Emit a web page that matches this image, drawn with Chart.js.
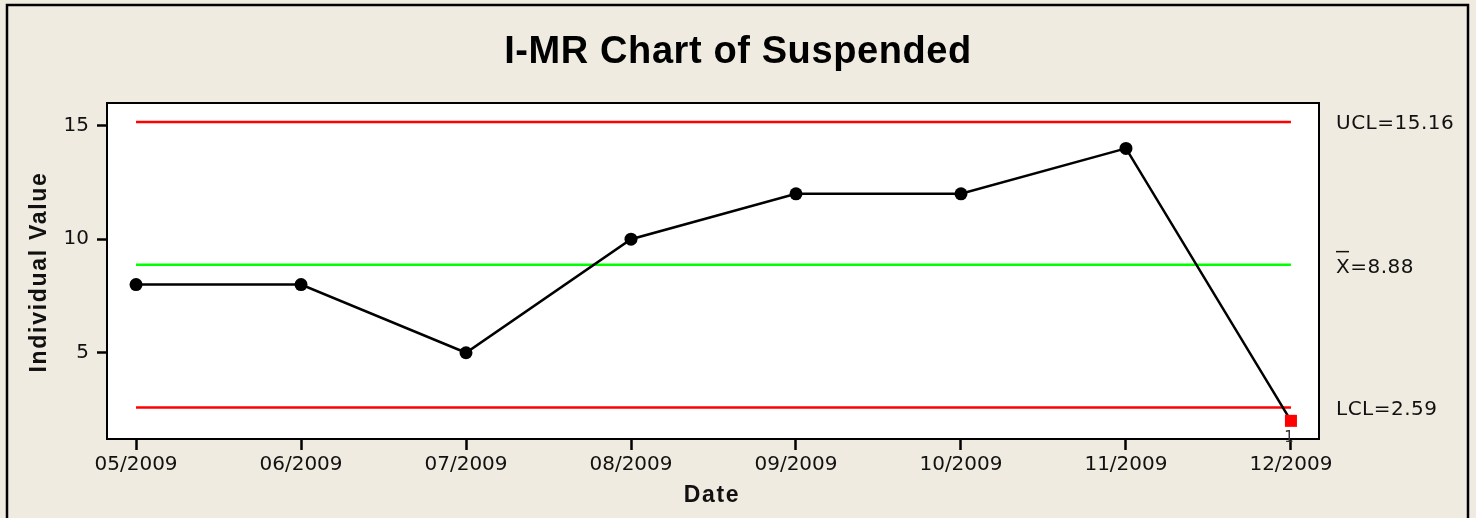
<!DOCTYPE html>
<html>
<head>
<meta charset="utf-8">
<title>I-MR Chart of Suspended</title>
<script src="https://cdn.jsdelivr.net/npm/chart.js@4"></script>
<style>
  html, body { margin: 0; padding: 0; background: #efebe0; }
  #wrap { width: 1476px; height: 518px; }
</style>
</head>
<body>
<div id="wrap"><canvas id="imrChart" width="1476" height="518"></canvas></div>
<script>
// data
const dates = ["05/2009", "06/2009", "07/2009", "08/2009", "09/2009", "10/2009", "11/2009", "12/2009"];
const values = [8, 8, 5, 10, 12, 12, 14, 2];
const yTicks = [5, 10, 15];
const UCL = 15.16;
const CENTER = 8.88;
const LCL = 2.59;
const flagged = [7]; // points failing test 1

const BG = "#efebe0";
const sans = "DejaVu Sans";
const boldFont = "Liberation Sans";

const points = values.map((v, i) => ({ x: i, y: v }));
const flat = (v) => dates.map((d, i) => ({ x: i, y: v }));

// background, plot frame, titles and limit labels
const decorPlugin = {
  id: "decor",
  beforeDraw(chart) {
    const { ctx, chartArea: a } = chart;
    ctx.save();
    ctx.fillStyle = BG;
    ctx.fillRect(0, 0, chart.width, chart.height);
    ctx.fillStyle = "#ffffff";
    ctx.fillRect(a.left, a.top, a.right - a.left, a.bottom - a.top);
    ctx.restore();
  },
  afterDraw(chart) {
    const { ctx, chartArea: a } = chart;
    const y = chart.scales.y;
    const x = chart.scales.x;
    ctx.save();

    // plot box
    ctx.strokeStyle = "#000";
    ctx.lineWidth = 2;
    ctx.strokeRect(a.left, a.top, a.right - a.left, a.bottom - a.top);

    // outer frame
    ctx.lineWidth = 2.5;
    ctx.strokeRect(7, 5, 1461, 540);

    // main title
    ctx.fillStyle = "#000";
    ctx.textAlign = "center";
    ctx.textBaseline = "alphabetic";
    ctx.letterSpacing = "0.6px";
    ctx.font = "bold 38px '" + boldFont + "'";
    ctx.fillText("I-MR Chart of Suspended", 738, 63);

    // axis titles
    ctx.letterSpacing = "1.7px";
    ctx.font = "bold 23px '" + boldFont + "'";
    ctx.fillStyle = "#111";
    ctx.textBaseline = "middle";
    ctx.fillText("Date", 712, 496);
    ctx.save();
    ctx.translate(40, 272);
    ctx.rotate(-Math.PI / 2);
    ctx.fillText("Individual Value", 0, 0);
    ctx.restore();

    // control limit labels
    ctx.letterSpacing = "0.5px";
    ctx.font = "20px '" + sans + "'";
    ctx.textAlign = "left";
    const lx = a.right + 17;
    ctx.fillText("UCL=" + UCL.toFixed(2), lx, y.getPixelForValue(UCL) + 2);
    const cy = y.getPixelForValue(CENTER) + 3;
    ctx.fillText("X=" + CENTER.toFixed(2), lx, cy);
    ctx.strokeStyle = "#111";
    ctx.lineWidth = 1.5;
    ctx.beginPath();
    ctx.moveTo(lx, cy - 16);
    ctx.lineTo(lx + 13, cy - 16);
    ctx.stroke();
    ctx.fillText("LCL=" + LCL.toFixed(2), lx, y.getPixelForValue(LCL) + 2);

    // test-failure marker
    ctx.letterSpacing = "0px";
    ctx.font = "15px '" + sans + "'";
    ctx.fillStyle = "#333";
    ctx.textAlign = "center";
    flagged.forEach((i) => {
      ctx.fillText("1", x.getPixelForValue(i) - 2, y.getPixelForValue(values[i]) + 17);
    });
    ctx.restore();
  }
};

Chart.defaults.font.family = sans;

new Chart(document.getElementById("imrChart").getContext("2d"), {
  type: "line",
  data: {
    datasets: [
      {
        label: "Suspended",
        data: points,
        borderColor: "#000",
        borderWidth: 2.5,
        pointStyle: values.map((v, i) => (flagged.includes(i) ? "rect" : "circle")),
        pointRadius: values.map((v, i) => (flagged.includes(i) ? 8.5 : 6.5)),
        pointBackgroundColor: values.map((v, i) => (flagged.includes(i) ? "#ff0000" : "#000")),
        pointBorderColor: values.map((v, i) => (flagged.includes(i) ? "#ff0000" : "#000")),
        pointBorderWidth: 0,
        tension: 0,
        order: 0
      },
      { label: "UCL", data: flat(UCL), borderColor: "#ff0000", borderWidth: 2.5, pointRadius: 0, order: 1 },
      { label: "X-bar", data: flat(CENTER), borderColor: "#00ff00", borderWidth: 2.5, pointRadius: 0, order: 1 },
      { label: "LCL", data: flat(LCL), borderColor: "#ff0000", borderWidth: 2.5, pointRadius: 0, order: 1 }
    ]
  },
  options: {
    responsive: false,
    animation: false,
    events: [],
    layout: { padding: { left: 0, top: 103, right: 157, bottom: 0 } },
    plugins: {
      legend: { display: false },
      title: { display: false },
      tooltip: { enabled: false }
    },
    scales: {
      x: {
        type: "linear",
        min: -0.176,
        max: 7.17,
        afterBuildTicks: (s) => { s.ticks = dates.map((d, i) => ({ value: i })); },
        afterFit: (s) => { s.height = 79; },
        ticks: {
          callback: (v) => dates[v],
          color: "#111",
          font: { size: 20 },
          padding: 3,
          maxRotation: 0,
          autoSkip: false
        },
        grid: { drawOnChartArea: false, drawTicks: true, tickLength: 11, tickWidth: 2.5, tickColor: "#000" },
        border: { display: true, color: "#000", width: 2 }
      },
      y: {
        min: 1.2,
        max: 16.0,
        afterBuildTicks: (s) => { s.ticks = yTicks.map((v) => ({ value: v })); },
        afterFit: (s) => { s.width = 107; },
        ticks: { color: "#111", font: { size: 20 }, padding: 8 },
        grid: { drawOnChartArea: false, drawTicks: true, tickLength: 10, tickWidth: 2.5, tickColor: "#000" },
        border: { display: true, color: "#000", width: 2 }
      }
    }
  },
  plugins: [decorPlugin]
});
</script>
</body>
</html>
